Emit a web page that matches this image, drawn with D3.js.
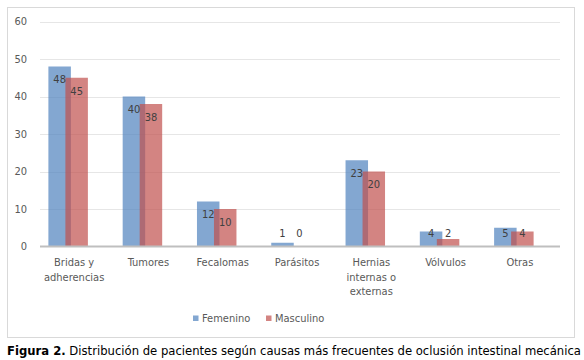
<!DOCTYPE html>
<html>
<head>
<meta charset="utf-8">
<script src="https://cdn.jsdelivr.net/npm/d3@7"></script>
<style>
  body { margin: 0; background: #fff; }
  text { font-family: "DejaVu Sans Condensed", "DejaVu Sans", sans-serif; }
</style>
</head>
<body>
<svg id="chart" width="584" height="360"></svg>
<script>
//////////////// data ////////////////
const categorias = [
  ["Bridas y", "adherencias"],
  ["Tumores"],
  ["Fecalomas"],
  ["Parásitos"],
  ["Hernias", "internas o", "externas"],
  ["Vólvulos"],
  ["Otras"]
];
const femenino  = [48, 40, 12, 1, 23, 4, 5];
const masculino = [45, 38, 10, 0, 20, 2, 4];
const series = [
  {name: "Femenino", values: femenino, color: "#4f81bd"},
  {name: "Masculino", values: masculino, color: "#c0504d"}
];
const yTicks = [0, 10, 20, 30, 40, 50, 60];

//////////////// layout ////////////////
const svg = d3.select("#chart");
const plot = {left: 40, right: 560, top: 21.5, bottom: 246.5};

const x = d3.scaleBand()
  .domain(d3.range(categorias.length))
  .range([plot.left, plot.right]);
const y = d3.scaleLinear()
  .domain([0, 60])
  .range([plot.bottom, plot.top]);

const barW = 22.5, barStep = 17;

// border
svg.append("rect")
  .attr("x", 7.5).attr("y", 7.5)
  .attr("width", 567).attr("height", 330)
  .attr("fill", "none").attr("stroke", "#d9d9d9");

// grid
svg.append("g").selectAll("line")
  .data(yTicks.filter(d => d > 0))
  .enter().append("line")
  .attr("x1", plot.left).attr("x2", plot.right)
  .attr("y1", d => Math.round(y(d)) + 0.5).attr("y2", d => Math.round(y(d)) + 0.5)
  .attr("stroke", "#e6e6e6");

// y labels
svg.append("g").selectAll("text")
  .data(yTicks)
  .enter().append("text")
  .attr("x", 27).attr("y", d => y(d))
  .attr("dy", "0.35em")
  .attr("text-anchor", "end")
  .attr("font-size", 11)
  .attr("fill", "#595959")
  .text(d => d);

// bars
function barX(i, s) {
  return x(i) + x.bandwidth() / 2 - 9 - (barW + barStep) / 2 + s * barStep;
}
series.forEach(function(ser, s) {
  svg.append("g").selectAll("rect")
    .data(ser.values)
    .enter().append("rect")
    .attr("x", (d, i) => barX(i, s))
    .attr("y", d => y(d))
    .attr("width", barW)
    .attr("height", d => y(0) - y(d))
    .attr("fill", ser.color)
    .attr("fill-opacity", 0.7);
});

// axis line
svg.append("line")
  .attr("x1", plot.left).attr("x2", plot.right)
  .attr("y1", plot.bottom).attr("y2", plot.bottom)
  .attr("stroke", "#bfbfbf").attr("stroke-width", 2);

// value labels
series.forEach(function(ser, s) {
  svg.append("g").selectAll("text")
    .data(ser.values)
    .enter().append("text")
    .attr("x", (d, i) => barX(i, s) + barW / 2)
    .attr("y", d => Math.min(y(d) + 13, y(0) - 13.5))
    .attr("dy", "0.35em")
    .attr("text-anchor", "middle")
    .attr("font-size", 11)
    .attr("fill", "#404040")
    .text(d => d);
});

// category labels
svg.append("g").selectAll("text")
  .data(categorias)
  .enter().append("text")
  .attr("x", (d, i) => x(i) + x.bandwidth() / 2 - 3)
  .attr("y", 262.3)
  .attr("text-anchor", "middle")
  .attr("font-size", 11)
  .attr("fill", "#595959")
  .each(function(d) {
    const t = d3.select(this);
    d.forEach(function(line, k) {
      t.append("tspan")
        .attr("x", t.attr("x"))
        .attr("y", 262.3 + k * 14.6)
        .attr("dy", "0.35em")
        .text(line);
    });
  });

// legend
const legendX = [193, 266];
series.forEach(function(ser, s) {
  svg.append("rect")
    .attr("x", legendX[s]).attr("y", 315.5)
    .attr("width", 5.5).attr("height", 5.5)
    .attr("fill", ser.color).attr("fill-opacity", 0.7);
  svg.append("text")
    .attr("x", legendX[s] + 9).attr("y", 318)
    .attr("dy", "0.35em")
    .attr("font-size", 11)
    .attr("fill", "#595959")
    .text(ser.name);
});

// caption
const cap = svg.append("text")
  .attr("x", 7).attr("y", 355)
  .attr("font-size", 12.5)
  .attr("fill", "#000")
  .attr("textLength", 574)
  .attr("lengthAdjust", "spacingAndGlyphs");
cap.append("tspan").attr("font-weight", "bold").text("Figura 2.");
cap.append("tspan").text(" Distribución de pacientes según causas más frecuentes de oclusión intestinal mecánica");
</script>
</body>
</html>
